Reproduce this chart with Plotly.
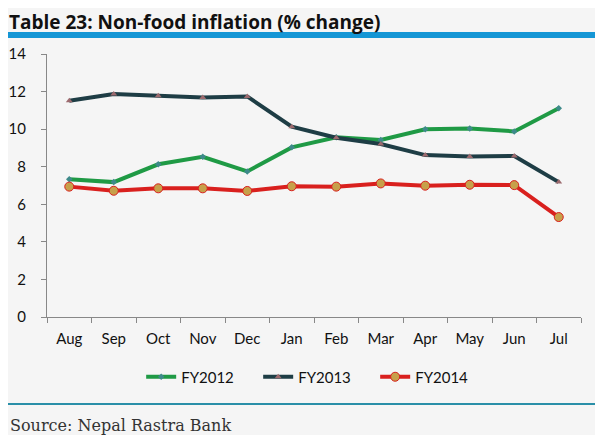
import plotly.graph_objects as go

MONTHS = ["Aug", "Sep", "Oct", "Nov", "Dec", "Jan", "Feb", "Mar", "Apr", "May", "Jun", "Jul"]

FY2012 = [7.33, 7.18, 8.13, 8.53, 7.75, 9.03, 9.57, 9.42, 9.99, 10.04, 9.88, 11.11]
FY2013 = [11.51, 11.87, 11.78, 11.69, 11.74, 10.13, 9.54, 9.21, 8.62, 8.55, 8.57, 7.18]
FY2014 = [6.94, 6.72, 6.85, 6.85, 6.71, 6.96, 6.94, 7.11, 6.99, 7.04, 7.02, 5.32]

BG = "#f5f5f5"
FONT = "Lato, Liberation Sans, sans-serif"

# page body has an 8px margin, so the figure is a bit smaller than the window
W, H = 595, 427
ML, MR, MT, MB = 39, 22, 46, 118
PW = W - ML - MR
PH = H - MT - MB

fig = go.Figure()

fig.add_trace(go.Scatter(
    x=MONTHS, y=FY2012, name="FY2012", mode="lines+markers",
    line={"color": "#1f9a45", "width": 4},
    marker={"symbol": "diamond", "size": 5, "color": "#3e8a8a"},
))
fig.add_trace(go.Scatter(
    x=MONTHS, y=FY2013, name="FY2013", mode="lines+markers",
    line={"color": "#1e3d45", "width": 4},
    marker={"symbol": "triangle-up", "size": 6, "color": "#9c6a6e"},
))
fig.add_trace(go.Scatter(
    x=MONTHS, y=FY2014, name="FY2014", mode="lines+markers",
    line={"color": "#d9201e", "width": 4},
    marker={"symbol": "circle", "size": 9, "color": "#c7a04a",
            "line": {"color": "#d9201e", "width": 1}},
))

fig.update_layout(
    width=W, height=H,
    paper_bgcolor=BG, plot_bgcolor=BG,
    margin={"l": ML, "r": MR, "t": MT, "b": MB, "autoexpand": False},
    font={"family": FONT, "size": 15, "color": "#111111"},
    showlegend=True,
    legend={"orientation": "h", "x": 0.505, "xanchor": "center", "y": -60 / PH, "yanchor": "middle",
            "font": {"size": 15}, "bgcolor": "rgba(0,0,0,0)",
            "entrywidth": 72, "entrywidthmode": "pixels"},
    xaxis={"type": "category", "range": [-0.5, len(MONTHS) - 0.5], "showgrid": False,
           "showline": True, "linecolor": "#888888",
           "ticks": "outside", "tickson": "boundaries", "ticklen": 5, "tickcolor": "#888888",
           "tickfont": {"size": 15}, "ticklabelstandoff": 8, "automargin": False},
    yaxis={"range": [0, 14], "dtick": 2, "showgrid": False, "showline": True, "linecolor": "#888888",
           "ticks": "outside", "ticklen": 5, "tickcolor": "#888888", "zeroline": False,
           "tickfont": {"size": 15}, "ticklabelstandoff": 12, "automargin": False},
    shapes=[
        {"type": "rect", "xref": "paper", "yref": "paper", "x0": -ML / PW, "x1": 1 + MR / PW,
         "y0": 1 + 16 / PH, "y1": 1 + 22 / PH, "fillcolor": "#1596d5", "line": {"width": 0}},
        {"type": "line", "xref": "paper", "yref": "paper", "x0": -ML / PW, "x1": 1 + MR / PW,
         "y0": -87 / PH, "y1": -87 / PH, "line": {"color": "#2a8fa8", "width": 2}},
    ],
    annotations=[
        {"text": "<b>Table 23: Non-food inflation (% change)</b>", "xref": "paper", "yref": "paper",
         "x": -ML / PW, "y": 1 + MT / PH, "xanchor": "left", "yanchor": "top", "showarrow": False,
         "borderpad": 0,
         "font": {"family": "Open Sans, sans-serif", "size": 19, "color": "#111111"}},
        {"text": "Source: Nepal Rastra Bank", "xref": "paper", "yref": "paper",
         "x": -ML / PW, "y": -108 / PH, "xanchor": "left", "yanchor": "middle", "showarrow": False,
         "font": {"family": "DejaVu Serif, serif", "size": 16, "color": "#333333"}},
    ],
)

fig.write_html("out.html")
